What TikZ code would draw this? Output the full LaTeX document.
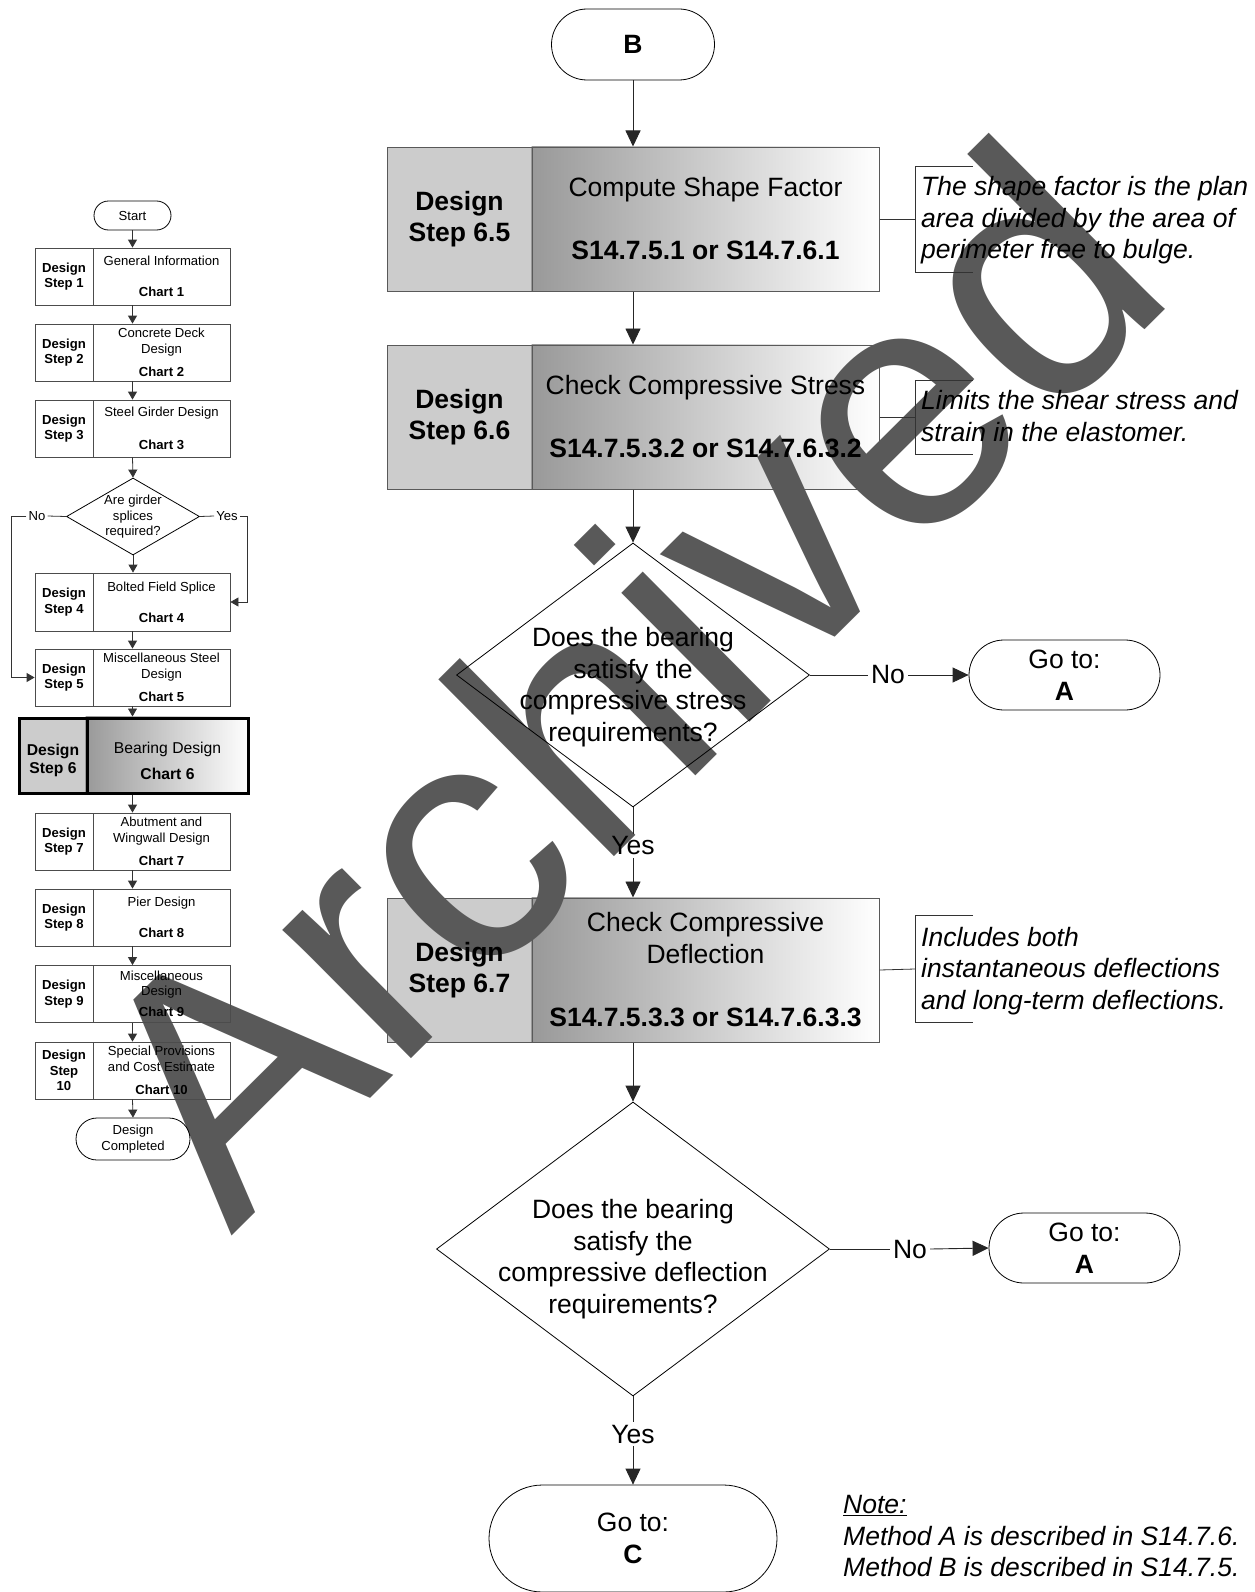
\documentclass[tikz,border=0pt]{standalone}
\usepackage{fontspec}
\setmainfont{Liberation Sans}
\usetikzlibrary{shapes.geometric,shapes.misc,arrows.meta}
\pgfdeclarelayer{fills}
\pgfdeclarelayer{mark}
\pgfsetlayers{fills,mark,main}

\begin{document}
\begin{tikzpicture}[x=1pt,y=-1pt,
  big/.style={font=\fontsize{26.5}{31.5}\selectfont},
  bigb/.style={font=\fontsize{26.5}{31.5}\selectfont\bfseries},
  ann/.style={font=\fontsize{26.5}{31.5}\selectfont\itshape, align=left, anchor=west, inner sep=0pt},
  small/.style={font=\fontsize{13.1}{15.5}\selectfont},
  smallb/.style={font=\fontsize{13.1}{15.5}\selectfont\bfseries},
  term/.style={draw, line width=0.8pt, rounded rectangle, inner sep=0pt, align=center},
  cell/.style={draw=black!65, line width=1pt, rectangle, inner sep=0pt, align=center},
  mcell/.style={draw=black!70, line width=0.8pt, rectangle, inner sep=0pt, align=center},
  hcell/.style={draw, line width=3pt, rectangle, inner sep=0pt},
  dia/.style={draw, diamond, inner sep=0pt, line width=0.8pt},
  lbl/.style={inner sep=3pt},
  mlbl/.style={inner sep=2pt, small},
  link/.style={line width=0.9pt, draw=black!85},
  arr/.style={link, -{Triangle[length=16pt,width=15pt]}},
  mlink/.style={line width=0.8pt, draw=black!80},
  marr/.style={mlink, -{Triangle[length=8pt,width=9pt]}},
  brk/.style={line width=0.8pt, draw=black!80}
]
\useasboundingbox (0,0) rectangle (1254,1592);

% ---------------- main chart ----------------
\node[term, bigb, minimum width=163pt, minimum height=71pt] (B) at (633,44.5) {B};

\node[cell, bigb, minimum width=145pt, minimum height=144pt] (s5-l) at (459.5,219) {Design\\Step 6.5};
\node[cell, big, minimum width=347pt, minimum height=144pt] (s5-r) at (705.5,219)
  {Compute Shape Factor\\[31.5pt]\textbf{S14.7.5.1 or S14.7.6.1}};

\node[cell, bigb, minimum width=145pt, minimum height=144pt] (s6-l) at (459.5,417) {Design\\Step 6.6};
\node[cell, big, minimum width=347pt, minimum height=144pt] (s6-r) at (705.5,417)
  {Check Compressive Stress\\[31.5pt]\textbf{S14.7.5.3.2 or S14.7.6.3.2}};

\node[dia, minimum width=353pt, minimum height=264pt] (d1) at (633,675) {};
\node[big, align=center] (d1t) at (633,687) {Does the bearing\\satisfy the\\compressive stress\\requirements?};
\node[big, lbl] (n1) at (888,675) {No};
\node[term, big, minimum width=191pt, minimum height=70pt] (A1) at (1064.5,675) {Go to:\\\textbf{A}};
\node[big, lbl] (y1) at (633,846) {Yes};

\node[cell, bigb, minimum width=145pt, minimum height=144pt] (s7-l) at (459.5,970) {Design\\Step 6.7};
\node[cell, big, minimum width=347pt, minimum height=144pt] (s7-r) at (705.5,970)
  {Check Compressive\\Deflection\\[32pt]\textbf{S14.7.5.3.3 or S14.7.6.3.3}};

\node[dia, minimum width=393pt, minimum height=294pt] (d2) at (633,1249) {};
\node[big, align=center] (d2t) at (633,1259) {Does the bearing\\satisfy the\\compressive deflection\\requirements?};
\node[big, lbl] (n2) at (910,1249) {No};
\node[term, big, minimum width=191pt, minimum height=70pt] (A2) at (1084.5,1248) {Go to:\\\textbf{A}};
\node[big, lbl] (y2) at (633,1434) {Yes};
\node[term, big, minimum width=288pt, minimum height=107pt] (C) at (633,1538.5) {Go to:\\\textbf{C}};

% connectors
\draw[arr] (B.south) -- (B.south |- s5-r.north);
\draw[arr] (s5-r.south -| B) -- (s6-r.north -| B);
\draw[arr] (s6-r.south -| B) -- (d1.north);
\draw[link] (d1.east) -- (n1.west);
\draw[arr] (n1.east) -- (A1.west);
\draw[link] (d1.south) -- (y1.north);
\draw[arr] (y1.south) -- (y1.south |- s7-r.north);
\draw[arr] (s7-r.south -| B) -- (d2.north);
\draw[link] (d2.east) -- (n2.west);
\draw[arr] (n2.east) -- (A2.west);
\draw[link] (d2.south) -- (y2.north);
\draw[arr] (y2.south) -- (C.north);

% side notes with brackets
\coordinate (k1) at (915,219);
\coordinate (k2) at (915,417);
\coordinate (k3) at (915,969);
\draw[brk] (s5-r.east) -- (k1);
\draw[brk] (973,166) -- (915,166) -- (915,272) -- (973,272);
\node[ann] (a1) at (921,220.5) {The shape factor is the plan\\area divided by the area of\\perimeter free to bulge.};
\draw[brk] (s6-r.east) -- (k2);
\draw[brk] (973,380) -- (915,380) -- (915,454) -- (973,454);
\node[ann] (a2) at (921,416) {Limits the shear stress and\\strain in the elastomer.};
\draw[brk] (s7-r.east) -- (k3);
\draw[brk] (973,915) -- (915,915) -- (915,1022) -- (973,1022);
\node[ann] (a3) at (921,971) {Includes both\\instantaneous deflections\\and long-term deflections.};

\node[ann] (note) at (843,1536) {\underline{Note:}\\Method A is described in S14.7.6.\\Method B is described in S14.7.5.};

% ---------------- overview chart ----------------
\node[term, small, minimum width=77pt, minimum height=29pt] (start) at (132.5,215.5) {Start};

\node[mcell, smallb, minimum width=58pt, minimum height=57pt] (m1-l) at (64,276.5) {Design\\Step 1};
\node[mcell, small, minimum width=137pt, minimum height=57pt] (m1-r) at (161.5,276.5) {General Information\\[15.5pt]\textbf{Chart 1}};
\node[mcell, smallb, minimum width=58pt, minimum height=57pt] (m2-l) at (64,352.5) {Design\\Step 2};
\node[mcell, small, minimum width=137pt, minimum height=57pt] (m2-r) at (161.5,352.5) {Concrete Deck\\Design\\[7.5pt]\textbf{Chart 2}};
\node[mcell, smallb, minimum width=58pt, minimum height=57pt] (m3-l) at (64,428.5) {Design\\Step 3};
\node[mcell, small, minimum width=137pt, minimum height=57pt] (m3-r) at (161.5,428.5) {Steel Girder Design\\[17pt]\textbf{Chart 3}};

\node[dia, minimum width=133pt, minimum height=77pt] (md) at (133,516.5) {};
\node[small, align=center] (mdt) at (133,517) {Are girder\\splices\\required?};
\node[mlbl] (mno) at (37,516) {No};
\node[mlbl] (myes) at (227,516) {Yes};

\node[mcell, smallb, minimum width=58pt, minimum height=58pt] (m4-l) at (64,602) {Design\\Step 4};
\node[mcell, small, minimum width=137pt, minimum height=58pt] (m4-r) at (161.5,602) {Bolted Field Splice\\[15.5pt]\textbf{Chart 4}};
\node[mcell, smallb, minimum width=58pt, minimum height=57pt] (m5-l) at (64,677.5) {Design\\Step 5};
\node[mcell, small, minimum width=137pt, minimum height=57pt] (m5-r) at (161.5,677.5) {Miscellaneous Steel\\Design\\[8pt]\textbf{Chart 5}};

\node[hcell, minimum width=68pt, minimum height=75pt] (m6-l) at (53,755.5) {};
\node[hcell, minimum width=161pt, minimum height=75pt] (m6-r) at (167.5,755.5) {};
\node[font=\fontsize{15.7}{18.5}\selectfont\bfseries, align=center] (m6-lt) at (53,760.5) {Design\\Step 6};
\node[font=\fontsize{15.7}{18.5}\selectfont, align=center] (m6-rt) at (167.5,760.5) {Bearing Design\\[7.5pt]\textbf{Chart 6}};

\node[mcell, smallb, minimum width=58pt, minimum height=57pt] (m7-l) at (64,841.5) {Design\\Step 7};
\node[mcell, small, minimum width=137pt, minimum height=57pt] (m7-r) at (161.5,841.5) {Abutment and\\Wingwall Design\\[7.5pt]\textbf{Chart 7}};
\node[mcell, smallb, minimum width=58pt, minimum height=57pt] (m8-l) at (64,917.5) {Design\\Step 8};
\node[mcell, small, minimum width=137pt, minimum height=57pt] (m8-r) at (161.5,917.5) {Pier Design\\[16pt]\textbf{Chart 8}};
\node[mcell, smallb, minimum width=58pt, minimum height=57pt] (m9-l) at (64,994) {Design\\Step 9};
\node[mcell, small, minimum width=137pt, minimum height=57pt] (m9-r) at (161.5,994) {Miscellaneous\\Design\\[5.5pt]\textbf{Chart 9}};
\node[mcell, smallb, minimum width=58pt, minimum height=57pt] (m10-l) at (64,1070.5) {Design\\Step\\10};
\node[mcell, small, minimum width=137pt, minimum height=57pt] (m10-r) at (161.5,1070.5) {Special Provisions\\and Cost Estimate\\[7.5pt]\textbf{Chart 10}};

\node[term, small, minimum width=114pt, minimum height=42pt] (done) at (133,1139) {Design\\Completed};

\draw[marr] (start.south) -- (start.south |- m1-r.north);
\draw[marr] (m1-r.south -| start) -- (m2-r.north -| start);
\draw[marr] (m2-r.south -| start) -- (m3-r.north -| start);
\draw[marr] (m3-r.south -| start) -- (md.north);
\draw[marr] (md.south) -- (m4-r.north -| md);
\draw[marr] (m4-r.south -| start) -- (m5-r.north -| start);
\draw[marr] (m5-r.south -| start) -- (m6-r.north -| start);
\draw[marr] (m6-r.south -| start) -- (m7-r.north -| start);
\draw[marr] (m7-r.south -| start) -- (m8-r.north -| start);
\draw[marr] (m8-r.south -| start) -- (m9-r.north -| start);
\draw[marr] (m9-r.south -| start) -- (m10-r.north -| start);
\draw[marr] (m10-r.south -| start) -- (done.north);
\draw[mlink] (md.west) -- (mno.east);
\draw[marr] (mno.west) -- ++(-15,0) |- (m5-l.west);
\draw[mlink] (md.east) -- (myes.west);
\draw[marr] (myes.east) -- ++(8,0) |- (m4-r.east);

% ---------------- box fills ----------------
\begin{pgfonlayer}{fills}
  \foreach \n in {s5,s6,s7,m6} {
    \fill[black!20] (\n-l.north west) rectangle (\n-l.south east);
    \shade[left color=black!40, right color=white] (\n-r.north west) rectangle (\n-r.south east);
  }
\end{pgfonlayer}

% ---------------- watermark ----------------
\begin{pgfonlayer}{mark}
  \node[rotate=44.8, text=black!65, inner sep=0pt, font=\fontsize{344}{344}\selectfont] (wm) at (620,678) {Archived};
\end{pgfonlayer}
\end{tikzpicture}
\end{document}
